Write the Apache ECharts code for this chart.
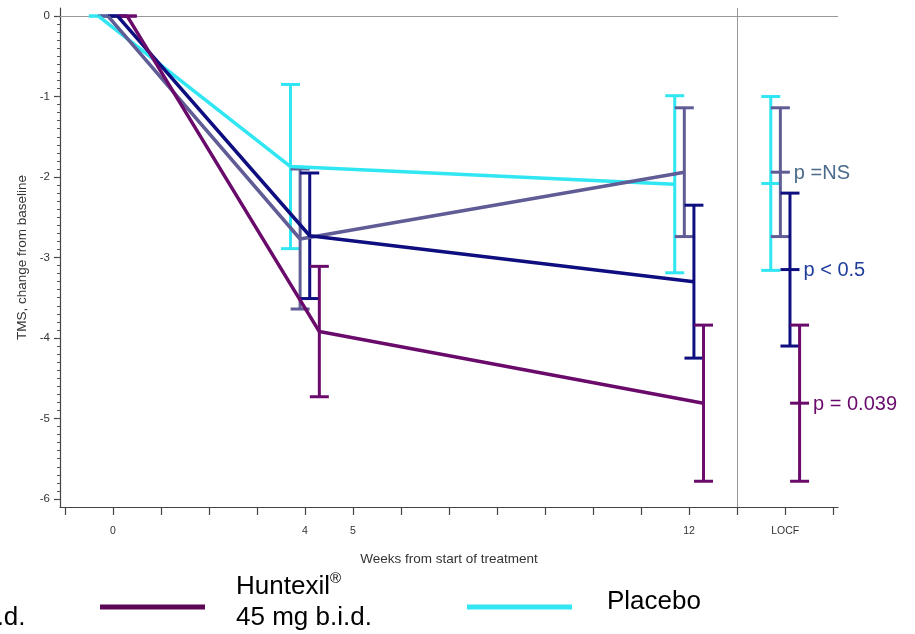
<!DOCTYPE html>
<html><head><meta charset="utf-8">
<script src="https://cdn.jsdelivr.net/npm/echarts@6/dist/echarts.min.js"></script>
<style>html,body{margin:0;padding:0;background:#fff}#c{width:915px;height:634px}</style>
</head><body><div id="c"></div>
<script>
// ---- data ----
const weeks = [0, 4, 12];
const locfWeek = 14;

const mg10Name = 'Huntexil® 10 mg b.i.d.';
const mg10Mean = [0, -2.77, -1.94];
const mg10Err  = [0, 0.87, 0.80];
const mg10Locf = [-1.94, 0.80];
const mg10P = 'p =NS';

const mg22Name = 'Huntexil® 22.5 mg b.i.d.';
const mg22Mean = [0, -2.73, -3.30];
const mg22Err  = [0, 0.78, 0.95];
const mg22Locf = [-3.15, 0.95];
const mg22P = 'p < 0.5';

const mg45Name = 'Huntexil® 45 mg b.i.d.';
const mg45Mean = [0, -3.92, -4.81];
const mg45Err  = [0, 0.81, 0.97];
const mg45Locf = [-4.81, 0.97];
const mg45P = 'p = 0.039';

const placeboName = 'Placebo';
const placeboMean = [0, -1.87, -2.09];
const placeboErr  = [0, 1.02, 1.10];
const placeboLocf = [-2.08, 1.08];
const placeboP = '';

const xTickValues = [-1, 0, 1, 2, 3, 4, 5, 6, 7, 8, 9, 10, 11, 12, 13, 14, 15];
const xLabelValues = [0, 4, 5, 12, 14];
const xLabelTexts = ['0', '4', '5', '12', 'LOCF'];
const yTickValues = [0, -1, -2, -3, -4, -5, -6];
const yTickLabels = ['0', '-1', '-2', '-3', '-4', '-5', '-6'];

// ---- styling ----
const FONT = '"Liberation Sans", Arial, sans-serif';
const groups = [
  {name: placeboName, mean: placeboMean, err: placeboErr, locf: placeboLocf, p: placeboP, off: -0.3, color: '#30e6f2', pColor: '#30e6f2'},
  {name: mg10Name, mean: mg10Mean, err: mg10Err, locf: mg10Locf, p: mg10P, off: -0.1, color: '#5f5c96', pColor: '#4a6b8a'},
  {name: mg22Name, mean: mg22Mean, err: mg22Err, locf: mg22Locf, p: mg22P, off: 0.1, color: '#0e0e80', pColor: '#1f3d9c'},
  {name: mg45Name, mean: mg45Mean, err: mg45Err, locf: mg45Locf, p: mg45P, off: 0.3, color: '#6a0b6c', pColor: '#6a0b6c'}
];

const minorTicks = [];
for (let i = 0; i <= 60; i++) minorTicks.push(-i / 10);

const series = [];
groups.forEach(function (g, gi) {
  const lineData = weeks.map(function (w, i) { return [w + g.off, g.mean[i]]; });
  const barData = weeks.map(function (w, i) { return [w + g.off, g.mean[i], g.err[i], 0]; });
  barData.push([locfWeek + g.off, g.locf[0], g.locf[1], 1]);
  const lineSeries = {
    type: 'line', name: g.name, data: lineData, showSymbol: false, symbol: 'none',
    lineStyle: {color: g.color, width: 3.5}, itemStyle: {color: g.color},
    silent: true, z: 3
  };
  if (gi === 0) {
    lineSeries.markLine = {
      silent: true, symbol: 'none', label: {show: false},
      lineStyle: {color: '#999', width: 1, type: 'solid'},
      data: [{yAxis: 0}, {xAxis: 13}],
      z: 1
    };
  }
  series.push(lineSeries);
  series.push({
    type: 'custom', name: g.name + ' SE', data: barData, silent: true, z: 3,
    renderItem: function (params, api) {
      const x = api.value(0), m = api.value(1), e = api.value(2), dash = api.value(3);
      const top = api.coord([x, m + e]), bot = api.coord([x, m - e]), mid = api.coord([x, m]);
      const half = 9.5;
      const st = {stroke: g.color, lineWidth: 3};
      const ch = [
        {type: 'line', shape: {x1: top[0], y1: top[1], x2: bot[0], y2: bot[1]}, style: st},
        {type: 'line', shape: {x1: top[0] - half, y1: top[1], x2: top[0] + half, y2: top[1]}, style: st},
        {type: 'line', shape: {x1: bot[0] - half, y1: bot[1], x2: bot[0] + half, y2: bot[1]}, style: st}
      ];
      if (dash) {
        ch.push({type: 'line', shape: {x1: mid[0] - half, y1: mid[1], x2: mid[0] + half, y2: mid[1]}, style: st});
        if (g.p) {
          ch.push({type: 'text', x: mid[0] + half + 4, y: mid[1] + 1,
            style: {text: g.p, fill: g.pColor, font: '20px ' + FONT, align: 'left', verticalAlign: 'middle'}});
        }
      }
      return {type: 'group', children: ch};
    }
  });
});

const legendRich = {
  a: {fontSize: 26, fontFamily: FONT, lineHeight: 31, color: '#000'},
  s: {fontSize: 15, fontFamily: FONT, lineHeight: 18, verticalAlign: 'top', color: '#000'}
};

const option = {
  animation: false,
  backgroundColor: '#fff',
  grid: {left: 60, top: 8, right: 77, bottom: 127, containLabel: false},
  xAxis: {
    type: 'value', min: -1.1, max: 15.1,
    name: 'Weeks from start of treatment', nameLocation: 'middle', nameGap: 45,
    nameTextStyle: {color: '#333', fontSize: 13.5, fontFamily: FONT},
    axisLine: {show: true, onZero: false, lineStyle: {color: '#444', width: 1.2}},
    axisTick: {show: true, customValues: xTickValues, length: 8, lineStyle: {color: '#444', width: 1.2}},
    axisLabel: {show: true, customValues: xLabelValues, margin: 19, color: '#333', fontSize: 10.5, fontFamily: FONT,
      formatter: function (v) { const i = xLabelValues.indexOf(Math.round(v)); return i >= 0 ? xLabelTexts[i] : ''; }},
    splitLine: {show: false}
  },
  yAxis: [{
    type: 'value', min: -6.1, max: 0.1, position: 'left',
    name: 'TMS, change from baseline', nameLocation: 'middle', nameGap: 28, nameRotate: 90,
    nameTextStyle: {color: '#333', fontSize: 13.5, fontFamily: FONT},
    axisLine: {show: true, onZero: false, lineStyle: {color: '#444', width: 1.2}},
    axisTick: {show: true, customValues: yTickValues, length: 6, lineStyle: {color: '#444', width: 1.2}},
    axisLabel: {show: true, customValues: yTickValues, margin: 10, color: '#333', fontSize: 11.5, fontFamily: FONT,
      formatter: function (v) { const i = yTickValues.indexOf(Math.round(v)); return i >= 0 ? yTickLabels[i] : ''; }},
    splitLine: {show: false}
  }, {
    type: 'value', min: -6.1, max: 0.1, position: 'left', offset: 0,
    axisLine: {show: false, onZero: false},
    axisTick: {show: true, customValues: minorTicks, length: 3, lineStyle: {color: '#555', width: 1}},
    axisLabel: {show: false},
    splitLine: {show: false}
  }],
  graphic: [
    {type: 'text', left: -132, top: 571, silent: true,
      style: {text: '{a|Huntexil}{s|®}\n{a|22.5 mg b.i.d.}', rich: legendRich, fill: '#000', font: '26px ' + FONT, lineHeight: 31}},
    {type: 'line', silent: true, shape: {x1: 100, y1: 607, x2: 205, y2: 607}, style: {stroke: '#5c0655', lineWidth: 5}},
    {type: 'text', left: 236, top: 571, silent: true,
      style: {text: '{a|Huntexil}{s|®}\n{a|45 mg b.i.d.}', rich: legendRich, fill: '#000', font: '26px ' + FONT, lineHeight: 31}},
    {type: 'line', silent: true, shape: {x1: 467, y1: 607, x2: 572, y2: 607}, style: {stroke: '#33e6f4', lineWidth: 5}},
    {type: 'text', left: 607, top: 589, silent: true,
      style: {text: 'Placebo', fill: '#000', font: '26px ' + FONT}}
  ],
  series: series
};

const chart = echarts.init(document.getElementById('c'), null, {renderer: 'canvas'});
chart.setOption(option);
</script>
</body></html>
